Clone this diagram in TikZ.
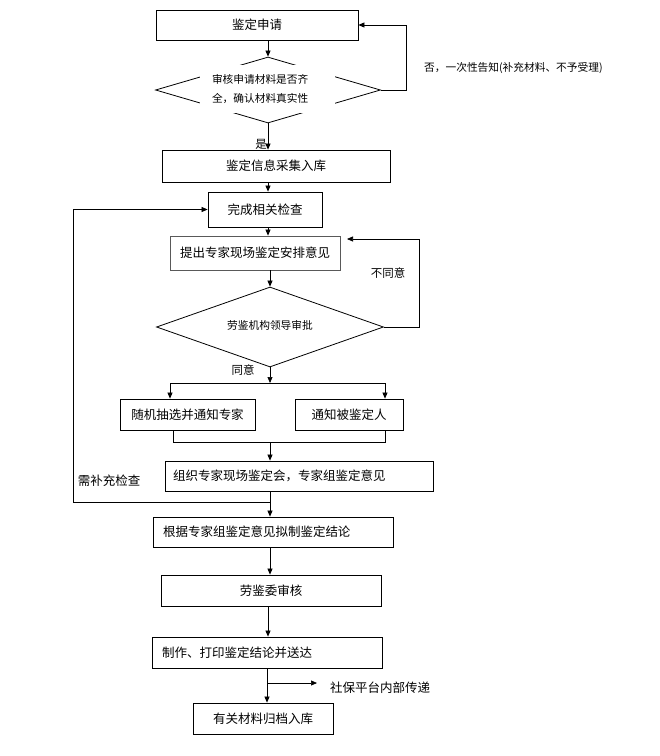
\documentclass[tikz,border=0pt]{standalone}
\usepackage{fontspec}
\newfontfamily\cjk{Noto Sans CJK SC}
\usetikzlibrary{shapes.geometric,arrows.meta}
\begin{document}
\begin{tikzpicture}[x=1pt,y=-1pt,
  box/.style={draw,line width=0.8pt,inner sep=0pt,font=\cjk\fontsize{12.5}{15}\selectfont},
  dia/.style={draw,diamond,line width=0.8pt,inner sep=0pt},
  small/.style={inner sep=0pt,font=\cjk\fontsize{10.7}{13}\selectfont},
  lab/.style={inner sep=0pt,font=\cjk\fontsize{12.5}{15}\selectfont},
  arr/.style={-{Triangle[length=6pt,width=5pt]},line width=0.7pt},
  ln/.style={line width=0.7pt}]
\path[use as bounding box,fill=white] (0,0) rectangle (660,756);

% nodes
\node[box,minimum width=202pt,minimum height=30pt] (B1) at (257,25) {鉴定申请};
\node[dia,aspect=3.4,minimum width=225pt,minimum height=66pt] (D1) at (268,90) {};
\node[fill=white,minimum width=135pt,minimum height=48pt,inner xsep=12pt,inner ysep=0pt,text width=111pt,align=left,font=\cjk\fontsize{10.7}{19}\selectfont] (D1t) at (267.5,89) {审核申请材料是否齐\\全，确认材料真实性};
\node[small,anchor=west] (no1) at (424,68) {否，一次性告知(补充材料、不予受理)};
\node[box,minimum width=228pt,minimum height=32pt] (B3) at (276,166) {鉴定信息采集入库};
\node[small,font=\cjk\fontsize{11.5}{13}\selectfont] (yes1) at (261,144) {是};
\node[box,minimum width=114pt,minimum height=35pt] (B4) at (265,209.5) {完成相关检查};
\node[box,draw=black!65,minimum width=170pt,minimum height=34pt] (B5) at (255,253) {提出专家现场鉴定安排意见};
\node[dia,aspect=2.84,minimum width=227pt,minimum height=80pt] (D2) at (270,327) {};
\node[small] (D2t) at (270,325) {劳鉴机构领导审批};
\node[small,font=\cjk\fontsize{11.5}{13}\selectfont] (no2) at (388,273) {不同意};
\node[small,font=\cjk\fontsize{11.5}{13}\selectfont] (yes2) at (243,370) {同意};
\node[box,minimum width=135pt,minimum height=31pt] (B6a) at (187.5,414.5) {随机抽选并通知专家};
\node[box,minimum width=108pt,minimum height=31pt] (B6b) at (349,414.5) {通知被鉴定人};
\node[box,minimum width=268pt,minimum height=30pt,inner xsep=8pt,text width=252pt,align=left] (B7) at (299,476) {组织专家现场鉴定会，专家组鉴定意见};
\node[lab] (sup) at (109,481) {需补充检查};
\node[box,minimum width=240pt,minimum height=30pt,inner xsep=10pt,text width=220pt,align=left] (B8) at (273,532) {根据专家组鉴定意见拟制鉴定结论};
\node[box,minimum width=220pt,minimum height=31pt] (B9) at (271,590.5) {劳鉴委审核};
\node[box,minimum width=230pt,minimum height=31pt,inner xsep=10pt,text width=210pt,align=left] (B10) at (267,652.5) {制作、打印鉴定结论并送达};
\node[lab,anchor=west] (soc) at (330,688) {社保平台内部传递};
\node[box,minimum width=140pt,minimum height=31pt] (B11) at (263,718.5) {有关材料归档入库};

% coordinates
\coordinate (ax1) at (268,0);
\coordinate (ax2) at (270,0);
\coordinate (ax3) at (267,0);
\coordinate (sl) at (170,383);
\coordinate (sr) at (385,383);
\coordinate (sm) at (270,383);
\coordinate (jl) at (173,442);
\coordinate (jr) at (385,442);
\coordinate (jm) at (270,442);
\coordinate (j1) at (270,502);
\coordinate (lft) at (73,502);
\coordinate (r5) at (419,239);
\coordinate (b5e) at (347,239);
\coordinate (sb) at (268,683);
\coordinate (se) at (317,683);

% connectors
\draw[arr] (B1.south -| ax1) -- (D1.north);
\draw[arr] (D1.east) -- ++(25,0) |- (B1.east);
\draw[arr] (D1.south) -- (B3.north -| ax1);
\draw[arr] (B3.south -| ax1) -- (B4.north -| ax1);
\draw[arr] (B4.south -| ax1) -- (B5.north -| ax1);
\draw[arr] (B5.south -| ax2) -- (D2.north);
\draw[arr] (D2.east) -| (r5) -- (b5e);
\draw[arr] (D2.south) -- (sm);
\draw[ln] (sl) -- (sr);
\draw[arr] (sl) -- (B6a.north -| sl);
\draw[arr] (sr) -- (B6b.north -| sr);
\draw[ln] (B6a.south -| jl) -- (jl) -- (jr) -- (B6b.south -| jr);
\draw[arr] (jm) -- (B7.north -| jm);
\draw[arr] (B7.south -| ax2) -- (B8.north -| ax2);
\draw[arr] (j1) -- (lft) |- (B4.west);
\draw[arr] (B8.south -| ax2) -- (B9.north -| ax2);
\draw[arr] (B9.south -| ax1) -- (B10.north -| ax1);
\draw[arr] (B10.south -| ax3) -- (B11.north -| ax3);
\draw[arr] (sb) -- (se);
\end{tikzpicture}
\end{document}
